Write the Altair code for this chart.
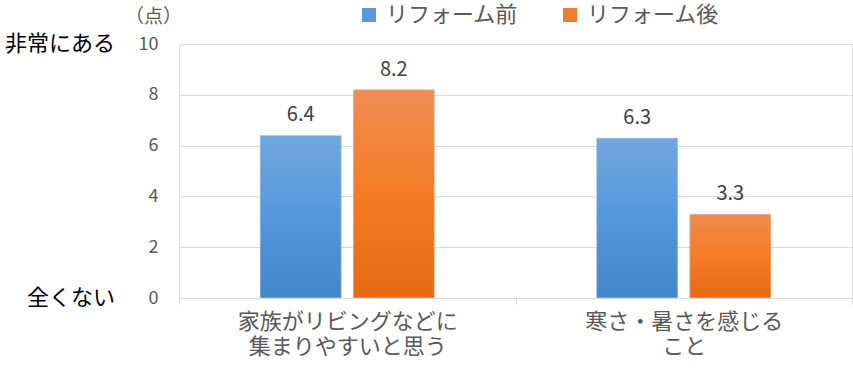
import altair as alt
import pandas as pd

categories = ["家族がリビングなどに\n集まりやすいと思う", "寒さ・暑さを感じる\nこと"]
series = ["リフォーム前", "リフォーム後"]
before = [6.4, 6.3]
after = [8.2, 3.3]
y_ticks = [0, 2, 4, 6, 8, 10]
scale_ends = ["全くない", "非常にある"]
scale_end_values = [0, 10]

FONT = "Noto Sans CJK JP"

rows = []
for c, b, a in zip(categories, before, after):
    rows.append({"cat": c, "series": series[0], "value": b})
    rows.append({"cat": c, "series": series[1], "value": a})
df = pd.DataFrame(rows)
ends_df = pd.DataFrame({"label": scale_ends, "v": scale_end_values})

blue_grad = alt.Gradient(gradient="linear", x1=0, x2=0, y1=0, y2=1,
                         stops=[alt.GradientStop(color="#72a7dd", offset=0),
                                alt.GradientStop(color="#5398dc", offset=0.5),
                                alt.GradientStop(color="#4186c6", offset=1)])
orange_grad = alt.Gradient(gradient="linear", x1=0, x2=0, y1=0, y2=1,
                           stops=[alt.GradientStop(color="#f08c52", offset=0),
                                  alt.GradientStop(color="#f47c24", offset=0.5),
                                  alt.GradientStop(color="#e46a16", offset=1)])

x_enc = alt.X("cat:N", sort=categories, title=None,
              scale=alt.Scale(paddingInner=0, paddingOuter=0),
              axis=alt.Axis(labelAngle=0, labelExpr="split(datum.label, '\\n')",
                            labelFontSize=22, labelColor="#595959", labelFont=FONT,
                            labelLineHeight=25, labelPadding=7, labelBaseline="top",
                            domainColor="#d9d9d9", tickColor="#d9d9d9", tickSize=6,
                            tickBand="extent", grid=False, labelLimit=400))
xo_enc = alt.XOffset("series:N", sort=series,
                     scale=alt.Scale(domain=series, paddingInner=0.129, paddingOuter=0.871))
y_enc = alt.Y("value:Q", title="（点）",
              scale=alt.Scale(domain=[0, 10], nice=False),
              axis=alt.Axis(values=y_ticks, labelFontSize=18, labelColor="#595959",
                            labelFont=FONT, labelPadding=21, ticks=False, domain=False,
                            gridColor="#d9d9d9", titleAngle=0, titleX=-26, titleY=-28,
                            titleAlign="center", titleBaseline="middle",
                            titleFontSize=19, titleFontWeight="normal",
                            titleColor="#595959", titleFont=FONT))

base = alt.Chart(df)

legend_bars = base.mark_bar().encode(
    x=x_enc, xOffset=xo_enc, y=y_enc,
    color=alt.Color("series:N", sort=series,
                    scale=alt.Scale(domain=series, range=["#5b9bd5", "#ed7d31"]),
                    legend=alt.Legend(title=None, orient="none", direction="horizontal",
                                      legendX=179, legendY=-40, symbolType="square",
                                      symbolSize=196, symbolStrokeWidth=0,
                                      labelFontSize=22, labelColor="#595959",
                                      labelFont=FONT, columnPadding=40, labelOffset=6,
                                      padding=0, labelLimit=300)),
)

bars_before = base.transform_filter(alt.datum.series == series[0]).mark_bar(
    color=blue_grad, stroke="#dcdcdc", strokeWidth=0.6).encode(
    x=alt.X("cat:N", sort=categories), xOffset=alt.XOffset("series:N", sort=series), y="value:Q")
bars_after = base.transform_filter(alt.datum.series == series[1]).mark_bar(
    color=orange_grad, stroke="#dcdcdc", strokeWidth=0.6).encode(
    x=alt.X("cat:N", sort=categories), xOffset=alt.XOffset("series:N", sort=series), y="value:Q")

labels = base.mark_text(dy=-10, baseline="bottom", fontSize=20, color="#404040",
                        font=FONT).encode(
    x=alt.X("cat:N", sort=categories), xOffset=alt.XOffset("series:N", sort=series),
    y="value:Q", text=alt.Text("value:Q", format=".1f"))

ends = alt.Chart(ends_df).mark_text(align="right", baseline="middle", fontSize=22,
                                     color="#000000", font=FONT).encode(
    x=alt.value(-64), y=alt.Y("v:Q"), text="label:N")

chart = alt.layer(legend_bars, bars_before, bars_after, labels, ends).properties(
    width=673, height=254,
    autosize=alt.AutoSizeParams(type="none"),
    padding={"left": 179, "top": 44, "right": 1, "bottom": 79},
).configure_view(stroke=None).configure(font=FONT)

chart.save("out.html", embed_options={"renderer": "svg", "actions": False})
